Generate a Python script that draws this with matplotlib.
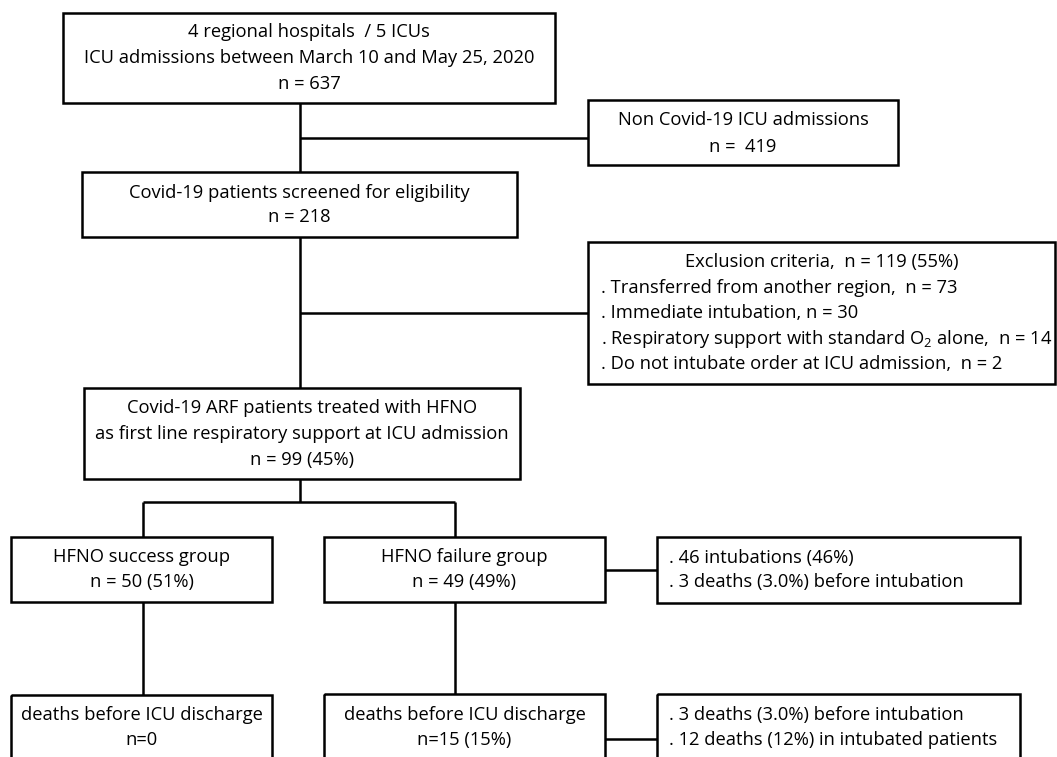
import matplotlib
matplotlib.use("Agg")
import matplotlib.pyplot as plt
from matplotlib.patches import Rectangle

plt.rcParams['font.family'] = ['Open Sans', 'DejaVu Sans']
plt.rcParams['mathtext.fontset'] = 'custom'
plt.rcParams['mathtext.rm'] = 'Open Sans'

# Box texts (one list of lines per box)
top_lines = ["4 regional hospitals  / 5 ICUs",
             "ICU admissions between March 10 and May 25, 2020",
             "n = 637"]
non_covid_lines = ["Non Covid-19 ICU admissions", "n =  419"]
screened_lines = ["Covid-19 patients screened for eligibility", "n = 218"]
exclusion_lines = ["Exclusion criteria,  n = 119 (55%)",
                   ". Transferred from another region,  n = 73",
                   ". Immediate intubation, n = 30",
                   r". Respiratory support with standard O$\mathregular{_2}$ alone,  n = 14",
                   ". Do not intubate order at ICU admission,  n = 2"]
hfno_lines = ["Covid-19 ARF patients treated with HFNO",
              "as first line respiratory support at ICU admission",
              "n = 99 (45%)"]
success_lines = ["HFNO success group", "n = 50 (51%)"]
failure_lines = ["HFNO failure group", "n = 49 (49%)"]
failure_detail_lines = [". 46 intubations (46%)",
                        ". 3 deaths (3.0%) before intubation"]
success_death_lines = ["deaths before ICU discharge", "n=0"]
failure_death_lines = ["deaths before ICU discharge", "n=15 (15%)"]
death_detail_lines = [". 3 deaths (3.0%) before intubation",
                      ". 12 deaths (12%) in intubated patients"]

W, H = 1057, 757
fig = plt.figure(figsize=(W / 100, H / 100), dpi=100)
ax = fig.add_axes([0, 0, 1, 1])
ax.set_xlim(0, W)
ax.set_ylim(H, 0)
ax.axis('off')

LW = 1.8
FS = 13.2
STEP = 25.5


def box(x0, y0, x1, y1):
    ax.add_patch(Rectangle((x0, y0), x1 - x0, y1 - y0, fill=False,
                           edgecolor='black', linewidth=LW))


def write(lines, cx, cy, align='center', step=STEP):
    n = len(lines)
    for i, t in enumerate(lines):
        y = cy + (i - (n - 1) / 2) * step
        ax.text(cx, y, t, ha=align, va='center', fontsize=FS, color='black')


def line(xs, ys):
    ax.plot(xs, ys, color='black', linewidth=LW, solid_capstyle='butt')


# boxes
box(63, 13, 555, 103)
write(top_lines, 309, 58, step=26)

box(588, 100, 898, 165)
write(non_covid_lines, 743, 133.5, step=27)

box(82, 172, 517, 237)
write(screened_lines, 299.5, 205, step=25)

box(588, 242, 1055, 384)
ax.text(822, 262, exclusion_lines[0], ha='center', va='center', fontsize=FS)
write(exclusion_lines[1:], 601, 326, align='left')

box(84, 388, 520, 479)
write(hfno_lines, 302, 434, step=26)

box(11, 537, 272, 602)
write(success_lines, 141.5, 570, step=25)

box(324, 537, 605, 602)
write(failure_lines, 464.5, 570, step=25)

box(657, 537, 1020, 603)
write(failure_detail_lines, 669, 570, align='left', step=25)

box(11, 695, 272, 780)
write(success_death_lines, 141.5, 727.5, step=25)

box(324, 694, 605, 780)
write(failure_death_lines, 464.5, 727.5, step=25)

box(657, 694, 1020, 780)
write(death_detail_lines, 669, 727.5, align='left', step=25)

# connectors
line([300, 300], [103, 172])
line([300, 588], [138, 138])
line([300, 300], [237, 388])
line([300, 588], [313, 313])
line([300, 300], [479, 502])
line([143, 455], [502, 502])
line([143, 143], [502, 537])
line([455, 455], [502, 537])
line([605, 657], [570, 570])
line([143, 143], [602, 695])
line([455, 455], [602, 694])
line([605, 657], [739, 739])

fig.savefig("out.png", dpi=100)
